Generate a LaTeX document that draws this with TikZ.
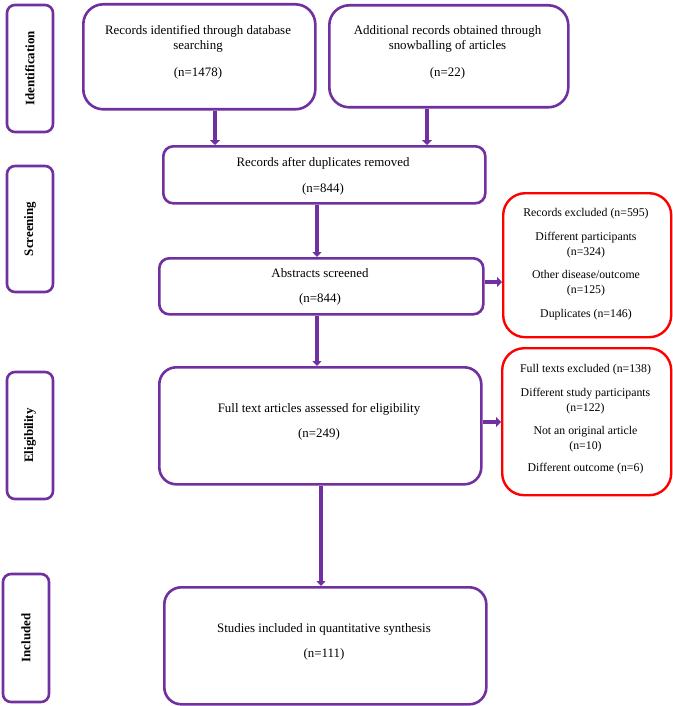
\documentclass[tikz,border=0pt]{standalone}
\usepackage{fontspec}
\setmainfont{Liberation Serif}
\usetikzlibrary{arrows.meta}
\definecolor{pp}{HTML}{7030A0}
\definecolor{rd}{HTML}{FF0000}
\begin{document}
\begin{tikzpicture}[x=1pt,y=-1pt,
  pbox/.style={draw=pp, line width=2.6pt, rounded corners=#1, inner sep=0pt, anchor=north west},
  rbox/.style={draw=rd, line width=2.4pt, rounded corners=#1, inner sep=0pt, anchor=north west},
  side/.style={draw=pp, line width=2.6pt, rounded corners=8pt, inner sep=0pt, rotate=90,
    font=\fontsize{12.9}{15}\selectfont\bfseries},
  txt/.style={inner sep=0pt, align=center, anchor=north, font=\fontsize{12.9}{15}\selectfont},
  rtxt/.style={inner sep=0pt, align=center, anchor=north, font=\fontsize{11.8}{15}\selectfont},
  arr/.style={draw=pp, line width=4.6pt, -{Triangle[width=10pt,length=5pt]}},
  arrs/.style={draw=pp, line width=4pt, -{Triangle[width=9pt,length=5pt]}}]
\useasboundingbox (0,0) rectangle (672,706);

% side labels
\node[side, minimum width=127pt, minimum height=46pt] (s1) at (30,68.5) {Identification};
\node[side, minimum width=126pt, minimum height=46pt] (s2) at (30,229) {Screening};
\node[side, minimum width=127pt, minimum height=46pt] (s3) at (30,435.5) {Eligibility};
\node[side, minimum width=128pt, minimum height=46pt] (s4) at (26,638) {Included};

% main boxes
\node[pbox=20pt, minimum width=232pt, minimum height=105pt] (b1) at (82,3) {};
\node[pbox=20pt, minimum width=239pt, minimum height=102pt] (b2) at (328,4) {};
\node[pbox=10pt, minimum width=322pt, minimum height=57pt] (b3) at (162,145) {};
\node[pbox=10pt, minimum width=324pt, minimum height=56pt] (b4) at (158,257) {};
\node[pbox=17pt, minimum width=322pt, minimum height=117pt] (b5) at (158,366) {};
\node[pbox=17pt, minimum width=322pt, minimum height=117pt] (b6) at (163,586) {};
\node[rbox=22pt, minimum width=168pt, minimum height=144pt] (r1) at (502,192) {};
\node[rbox=22pt, minimum width=169pt, minimum height=147pt] (r2) at (501,347) {};

% texts
\node[txt] (b1t) at (198,25.5) {Records identified through database\\searching\\[12pt](n=1478)};
\node[txt] (b2t) at (447.5,25.5) {Additional records obtained through\\snowballing of articles\\[12pt](n=22)};
\node[txt] (b3t) at (323,157.5) {Records after duplicates removed\\[11pt](n=844)};
\node[txt] (b4t) at (320,268.5) {Abstracts screened\\[10pt](n=844)};
\node[txt] (b5t) at (319,403.5) {Full text articles assessed for eligibility\\[10pt](n=249)};
\node[txt] (b6t) at (324,623.5) {Studies included in quantitative synthesis\\[10pt](n=111)};
\node[rtxt] (r1t) at (586,208) {Records excluded (n=595)\\[9pt]Different participants\\(n=324)\\[8pt]Other disease/outcome\\(n=125)\\[9pt]Duplicates (n=146)};
\node[rtxt] (r2t) at (585.5,364) {Full texts excluded (n=138)\\[9pt]Different study participants\\(n=122)\\[8pt]Not an original article\\(n=10)\\[7pt]Different outcome (n=6)};

% connector guide coordinates
\coordinate (x1) at (215,0);
\coordinate (x2) at (427,0);
\coordinate (x3) at (317,0);
\coordinate (x5) at (321,0);
\coordinate (y1) at (0,282);
\coordinate (y2) at (0,422);

\draw[arr] (b1.south -| x1) -- (b3.north -| x1);
\draw[arr] (b2.south -| x2) -- (b3.north -| x2);
\draw[arrs] (b3.south -| x3) -- (b4.north -| x3);
\draw[arrs] (b4.south -| x3) -- (b5.north -| x3);
\draw[arrs] (b5.south -| x5) -- (b6.north -| x5);
\draw[arr] (b4.east |- y1) -- (r1.west |- y1);
\draw[arr] (b5.east |- y2) -- (r2.west |- y2);
\end{tikzpicture}
\end{document}
